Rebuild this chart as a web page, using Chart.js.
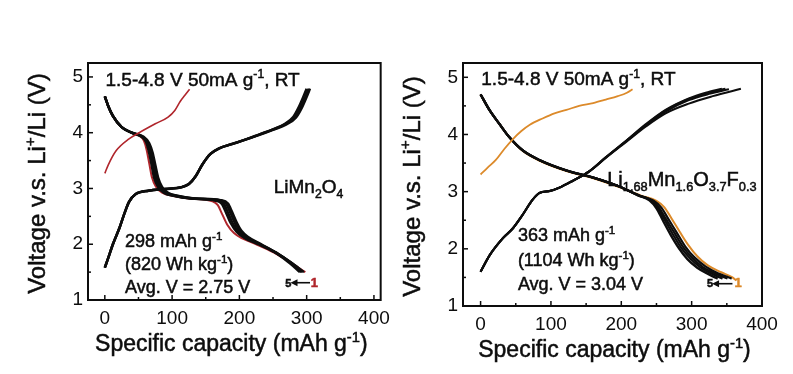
<!DOCTYPE html>
<html>
<head>
<meta charset="utf-8">
<script src="https://cdn.jsdelivr.net/npm/chart.js@4.4.0/dist/chart.umd.min.js"></script>
<style>
  html, body { margin: 0; padding: 0; background: #fff; }
  #wrap { position: relative; width: 793px; height: 374px; overflow: hidden; }
  canvas { position: absolute; top: 0; }
  #lmo { left: 0; }
  #lmof { left: 397px; }
</style>
</head>
<body>
<div id="wrap">
  <canvas id="lmo" width="397" height="374"></canvas>
  <canvas id="lmof" width="396" height="374"></canvas>
</div>
<script>
// ---- LiMn2O4 : [capacity mAh/g, voltage V] ----
const lmoCharge1 = [[0,3.27],[5,3.42],[17,3.68],[36,3.89],[51,4.0],[75,4.16],[94,4.28],[104,4.4],[112,4.56],[119,4.67],[126,4.78]];
const lmoDis1 = [[0,4.65],[5,4.48],[12,4.3],[25,4.1],[40,4.0],[52,3.94],[58,3.86],[62,3.7],[66,3.45],[70,3.2],[76,3.03],[86,2.92],[100,2.87],[125,2.82],[160,2.77],[168,2.7],[174,2.55],[182,2.35],[192,2.2],[205,2.1],[225,2.0],[250,1.86],[275,1.68],[298,1.5]];
const lmoDis2 = [[0,4.65],[5,4.48],[12,4.3],[25,4.1],[40,4.0],[54,3.93],[61,3.84],[65,3.68],[69,3.45],[73,3.2],[79,3.03],[88,2.92],[102,2.87],[128,2.82],[165,2.78],[174,2.72],[180,2.57],[187,2.38],[196,2.22],[208,2.11],[228,2.0],[252,1.86],[276,1.68],[296,1.5]];
const lmoDis3 = [[0,4.65],[5,4.48],[12,4.3],[25,4.1],[40,4.0],[55,3.93],[63,3.83],[67,3.66],[71,3.44],[75,3.2],[81,3.03],[90,2.92],[104,2.87],[130,2.82],[168,2.78],[177,2.72],[183,2.57],[190,2.38],[199,2.22],[210,2.11],[230,2.0],[254,1.85],[277,1.67],[294,1.5]];
const lmoDis4 = [[0,4.65],[5,4.48],[12,4.3],[25,4.1],[40,4.0],[56,3.93],[64,3.82],[69,3.65],[73,3.43],[77,3.2],[83,3.03],[92,2.92],[106,2.87],[132,2.82],[170,2.79],[180,2.73],[186,2.58],[193,2.39],[201,2.23],[212,2.12],[231,2.0],[255,1.85],[277,1.66],[292,1.5]];
const lmoDis5 = [[0,4.65],[5,4.48],[12,4.3],[25,4.1],[40,4.0],[57,3.93],[66,3.81],[71,3.64],[75,3.42],[79,3.2],[85,3.03],[94,2.92],[108,2.87],[134,2.82],[172,2.79],[183,2.73],[189,2.58],[196,2.39],[203,2.24],[213,2.13],[232,2.0],[255,1.84],[276,1.65],[290,1.5]];
const lmoCharge2 = [[0,1.58],[5,1.75],[12,2.0],[22,2.3],[30,2.58],[36,2.76],[46,2.9],[65,2.96],[90,2.99],[113,3.02],[125,3.08],[135,3.22],[145,3.43],[157,3.62],[170,3.72],[190,3.8],[210,3.88],[230,3.97],[250,4.06],[268,4.16],[280,4.28],[288,4.45],[295,4.64],[300,4.79]];
const lmoCharge3 = [[0,1.58],[5,1.75],[12,2.0],[22,2.3],[30,2.58],[36,2.76],[46,2.9],[65,2.96],[90,2.99],[113,3.02],[125,3.08],[135,3.22],[145,3.43],[157,3.62],[170,3.72],[190,3.8],[210,3.88],[230,3.97],[250,4.06],[269,4.16],[282,4.28],[291,4.45],[298,4.64],[303,4.79]];
const lmoCharge4 = [[0,1.58],[5,1.75],[12,2.0],[22,2.3],[30,2.58],[36,2.76],[46,2.9],[65,2.96],[90,2.99],[113,3.02],[125,3.08],[135,3.22],[145,3.43],[157,3.62],[170,3.72],[190,3.8],[210,3.88],[230,3.96],[250,4.05],[270,4.15],[284,4.27],[293,4.45],[300,4.64],[305,4.79]];

// ---- Li1.68Mn1.6O3.7F0.3 ----
const lmofCharge1 = [[0,3.3],[10,3.42],[22,3.56],[34,3.75],[46,3.92],[58,4.06],[70,4.17],[88,4.28],[105,4.37],[122,4.43],[140,4.5],[160,4.55],[178,4.61],[195,4.67],[208,4.73],[216,4.79]];
const lmofDis1 = [[0,4.7],[13,4.42],[27,4.18],[41,3.95],[60,3.71],[84,3.54],[122,3.36],[159,3.24],[197,3.08],[228,2.93],[250,2.84],[261,2.73],[271,2.54],[283,2.3],[295,2.07],[308,1.87],[323,1.71],[342,1.59],[358,1.5],[363,1.45]];
const lmofDis2 = [[0,4.7],[13,4.42],[27,4.18],[41,3.95],[60,3.72],[84,3.55],[122,3.37],[159,3.25],[197,3.09],[226,2.93],[246,2.84],[257,2.72],[267,2.52],[279,2.28],[291,2.04],[304,1.85],[320,1.69],[338,1.57],[353,1.5],[357,1.48]];
const lmofDis3 = [[0,4.7],[13,4.42],[27,4.18],[41,3.95],[60,3.72],[84,3.55],[122,3.37],[159,3.25],[197,3.09],[225,2.93],[244,2.84],[254,2.71],[264,2.51],[276,2.27],[288,2.03],[301,1.84],[316,1.68],[333,1.57],[347,1.5],[351,1.48]];
const lmofDis4 = [[0,4.7],[13,4.42],[27,4.18],[41,3.95],[60,3.72],[84,3.55],[122,3.37],[159,3.25],[197,3.09],[224,2.94],[242,2.85],[252,2.71],[262,2.5],[273,2.26],[285,2.02],[298,1.83],[312,1.68],[328,1.57],[340,1.5],[344,1.48]];
const lmofDis5 = [[0,4.7],[13,4.42],[27,4.18],[41,3.95],[60,3.72],[84,3.55],[122,3.37],[159,3.25],[197,3.09],[223,2.94],[240,2.85],[250,2.71],[259,2.5],[270,2.25],[282,2.01],[294,1.82],[308,1.67],[322,1.57],[333,1.5],[337,1.48]];
const lmofCharge2 = [[0,1.6],[13,1.89],[32,2.19],[46,2.36],[60,2.6],[74,2.86],[84,2.98],[98,3.01],[112,3.07],[131,3.19],[155,3.36],[178,3.6],[207,3.89],[235,4.18],[263,4.43],[296,4.63],[320,4.73],[343,4.8]];
const lmofCharge3 = [[0,1.6],[13,1.89],[32,2.19],[46,2.36],[60,2.6],[74,2.86],[84,2.98],[98,3.01],[112,3.07],[131,3.19],[155,3.36],[178,3.6],[207,3.89],[235,4.17],[263,4.42],[296,4.62],[322,4.72],[348,4.8]];
const lmofCharge4 = [[0,1.6],[13,1.89],[32,2.19],[46,2.36],[60,2.6],[74,2.86],[84,2.98],[98,3.01],[112,3.07],[131,3.19],[155,3.36],[178,3.6],[207,3.88],[235,4.16],[263,4.4],[296,4.6],[325,4.71],[353,4.79]];
const lmofCharge5 = [[0,1.6],[13,1.89],[32,2.19],[46,2.36],[60,2.6],[74,2.86],[84,2.98],[98,3.01],[112,3.07],[131,3.19],[155,3.36],[178,3.59],[207,3.87],[235,4.14],[263,4.37],[296,4.54],[330,4.67],[370,4.8]];

const xTicks = [0, 100, 200, 300, 400];
const yTicks = [1, 2, 3, 4, 5];

const FONT = '"Liberation Sans", Arial, sans-serif';
const INK = '#0d0d0d';
const RED = '#b0262c';
const ORANGE = '#dc8a2a';

function toPts(arr) {
  return arr.map(p => ({ x: p[0], y: p[1] }));
}

function line(data, color, width) {
  return {
    data: toPts(data),
    showLine: true,
    borderColor: color,
    borderWidth: width,
    pointRadius: 0,
    cubicInterpolationMode: 'monotone',
    fill: false
  };
}

// text with super/subscripts, y = baseline
function richText(ctx, x, y, parts, size, align, bold) {
  ctx.save();
  const segs = parts.map(p => typeof p === 'string' ? { t: p } : { t: p[0], k: p[1], c: p[2] });
  let w = 0;
  segs.forEach(s => {
    s.size = s.k ? size * 0.64 : size;
    ctx.font = (bold ? 'bold ' : '') + s.size + 'px ' + FONT;
    s.w = ctx.measureText(s.t).width;
    w += s.w;
  });
  let cx = align === 'center' ? x - w / 2 : x;
  ctx.textAlign = 'left';
  ctx.textBaseline = 'alphabetic';
  ctx.lineWidth = 0.5;
  segs.forEach(s => {
    ctx.font = (bold ? 'bold ' : '') + s.size + 'px ' + FONT;
    ctx.fillStyle = s.c || INK;
    ctx.strokeStyle = s.c || INK;
    const dy = s.k === 'sup' ? -size * 0.4 : s.k === 'sub' ? size * 0.25 : 0;
    ctx.fillText(s.t, cx, y + dy);
    ctx.strokeText(s.t, cx, y + dy);
    cx += s.w;
  });
  ctx.restore();
}

const panelDecor = {
  id: 'panelDecor',
  afterDatasetsDraw(chart, args, opts) {
    const { ctx, chartArea: a, scales: { x, y } } = chart;
    ctx.save();
    // inward ticks
    ctx.strokeStyle = INK;
    ctx.lineWidth = 1.5;
    x.ticks.forEach(t => {
      [t.value, t.value + 50].forEach((v, i) => {
        if (v > x.max) return;
        const px = x.getPixelForValue(v);
        ctx.beginPath();
        ctx.moveTo(px, a.bottom);
        ctx.lineTo(px, a.bottom - (i ? 3 : 5));
        ctx.stroke();
      });
    });
    y.ticks.forEach(t => {
      [t.value, t.value + 0.5].forEach((v, i) => {
        if (v > y.max) return;
        const py = y.getPixelForValue(v);
        ctx.beginPath();
        ctx.moveTo(a.left, py);
        ctx.lineTo(a.left + (i ? 3 : 5), py);
        ctx.stroke();
      });
    });
    // frame
    ctx.lineWidth = 2;
    ctx.strokeRect(a.left, a.top, a.right - a.left, a.bottom - a.top);
    ctx.restore();

    // notes inside the plot
    opts.notes.forEach(n => {
      richText(ctx, x.getPixelForValue(n.x), y.getPixelForValue(n.y), n.parts, n.size, 'left');
    });

    // "5 <- 1" cycle marker
    const m = opts.mark;
    const my = y.getPixelForValue(m.y);
    richText(ctx, x.getPixelForValue(m.x5), y.getPixelForValue(m.yText), ['5'], 11, 'left', true);
    richText(ctx, x.getPixelForValue(m.x1), y.getPixelForValue(m.yText), [['1', null, m.color]], 13, 'left', true);
    const ax0 = x.getPixelForValue(m.a0), ax1 = x.getPixelForValue(m.a1);
    ctx.save();
    ctx.strokeStyle = INK;
    ctx.fillStyle = INK;
    ctx.lineWidth = 1.6;
    ctx.beginPath();
    ctx.moveTo(ax1, my);
    ctx.lineTo(ax0 + 4, my);
    ctx.stroke();
    ctx.beginPath();
    ctx.moveTo(ax0, my);
    ctx.lineTo(ax0 + 7, my - 3.5);
    ctx.lineTo(ax0 + 7, my + 3.5);
    ctx.closePath();
    ctx.fill();
    ctx.restore();

    // axis titles
    const xt = ['Specific capacity (mAh g', ['-1', 'sup'], ')'];
    richText(ctx, (a.left + a.right) / 2 + opts.xTitleShift, a.bottom + 51, xt, 23, 'center');
    ctx.save();
    ctx.translate(opts.yTitleX, (a.top + a.bottom) / 2 + 2);
    ctx.rotate(-Math.PI / 2);
    richText(ctx, 0, 0, ['Voltage v.s. Li', ['+', 'sup'], '/Li (V)'], 24, 'center');
    ctx.restore();
  }
};

function makePanel(id, datasets, xMax, pad, decor) {
  return new Chart(document.getElementById(id), {
    type: 'scatter',
    data: { datasets },
    plugins: [panelDecor],
    options: {
      responsive: false,
      animation: false,
      devicePixelRatio: 1,
      layout: { padding: pad },
      plugins: {
        legend: { display: false },
        tooltip: { enabled: false },
        panelDecor: decor
      },
      scales: {
        x: {
          type: 'linear',
          min: -25,
          max: xMax,
          afterFit: s => { s.height = 30; },
          grid: { display: false, drawTicks: false },
          border: { display: false },
          afterBuildTicks: s => { s.ticks = xTicks.map(v => ({ value: v })); },
          ticks: {
            padding: 7,
            color: INK,
            font: { family: FONT, size: 19 },
            maxRotation: 0
          }
        },
        y: {
          type: 'linear',
          min: 1,
          max: 5.25,
          afterFit: s => { s.width = 30; },
          grid: { display: false, drawTicks: false },
          border: { display: false },
          afterBuildTicks: s => { s.ticks = yTicks.map(v => ({ value: v })); },
          ticks: {
            padding: 5,
            color: INK,
            font: { family: FONT, size: 19 }
          }
        }
      }
    }
  });
}

// first dataset is drawn on top, last at the bottom
makePanel('lmo', [
  line(lmoCharge1, RED, 1.6),
  line(lmoDis2, INK, 2.4),
  line(lmoDis3, INK, 2.4),
  line(lmoDis4, INK, 2.4),
  line(lmoDis5, INK, 2.6),
  line(lmoCharge2, INK, 2.6),
  line(lmoCharge3, INK, 2.4),
  line(lmoCharge4, INK, 2.4),
  line(lmoDis1, RED, 2.0)
], 410, { left: 58, right: 9, top: 63, bottom: 44 }, {
  notes: [
    { x: 1, y: 4.84, size: 19, parts: ['1.5-4.8 V 50mA g', ['-1', 'sup'], ', RT'] },
    { x: 251, y: 2.91, size: 19, parts: ['LiMn', ['2', 'sub'], 'O', ['4', 'sub']] },
    { x: 30, y: 1.95, size: 18, parts: ['298 mAh g', ['-1', 'sup']] },
    { x: 30, y: 1.54, size: 18, parts: ['(820 Wh kg', ['-1', 'sup'], ')'] },
    { x: 30, y: 1.12, size: 18, parts: ['Avg. V = 2.75 V'] }
  ],
  mark: { x5: 268, x1: 306, a0: 276, a1: 305, y: 1.31, yText: 1.23, color: RED },
  xTitleShift: -3,
  yTitleX: 45
});

makePanel('lmof', [
  line(lmofCharge1, ORANGE, 1.8),
  line(lmofDis2, INK, 2.2),
  line(lmofDis3, INK, 2.2),
  line(lmofDis4, INK, 2.2),
  line(lmofDis5, INK, 2.4),
  line(lmofCharge2, INK, 2.2),
  line(lmofCharge3, INK, 2.0),
  line(lmofCharge4, INK, 2.0),
  line(lmofCharge5, INK, 2.0),
  line(lmofDis1, ORANGE, 2.0)
], 400, { left: 36, right: 31, top: 63, bottom: 38 }, {
  notes: [
    { x: 1, y: 4.86, size: 19, parts: ['1.5-4.8 V 50mA g', ['-1', 'sup'], ', RT'] },
    { x: 180, y: 3.1, size: 20, parts: ['Li', ['1.68', 'sub'], 'Mn', ['1.6', 'sub'], 'O', ['3.7', 'sub'], 'F', ['0.3', 'sub']] },
    { x: 53, y: 2.13, size: 18, parts: ['363 mAh g', ['-1', 'sup']] },
    { x: 53, y: 1.7, size: 18, parts: ['(1104 Wh kg', ['-1', 'sup'], ')'] },
    { x: 53, y: 1.28, size: 18, parts: ['Avg. V = 3.04 V'] }
  ],
  mark: { x5: 322, x1: 361, a0: 329, a1: 358, y: 1.39, yText: 1.33, color: ORANGE },
  xTitleShift: 2,
  yTitleX: 23
});
</script>
</body>
</html>
